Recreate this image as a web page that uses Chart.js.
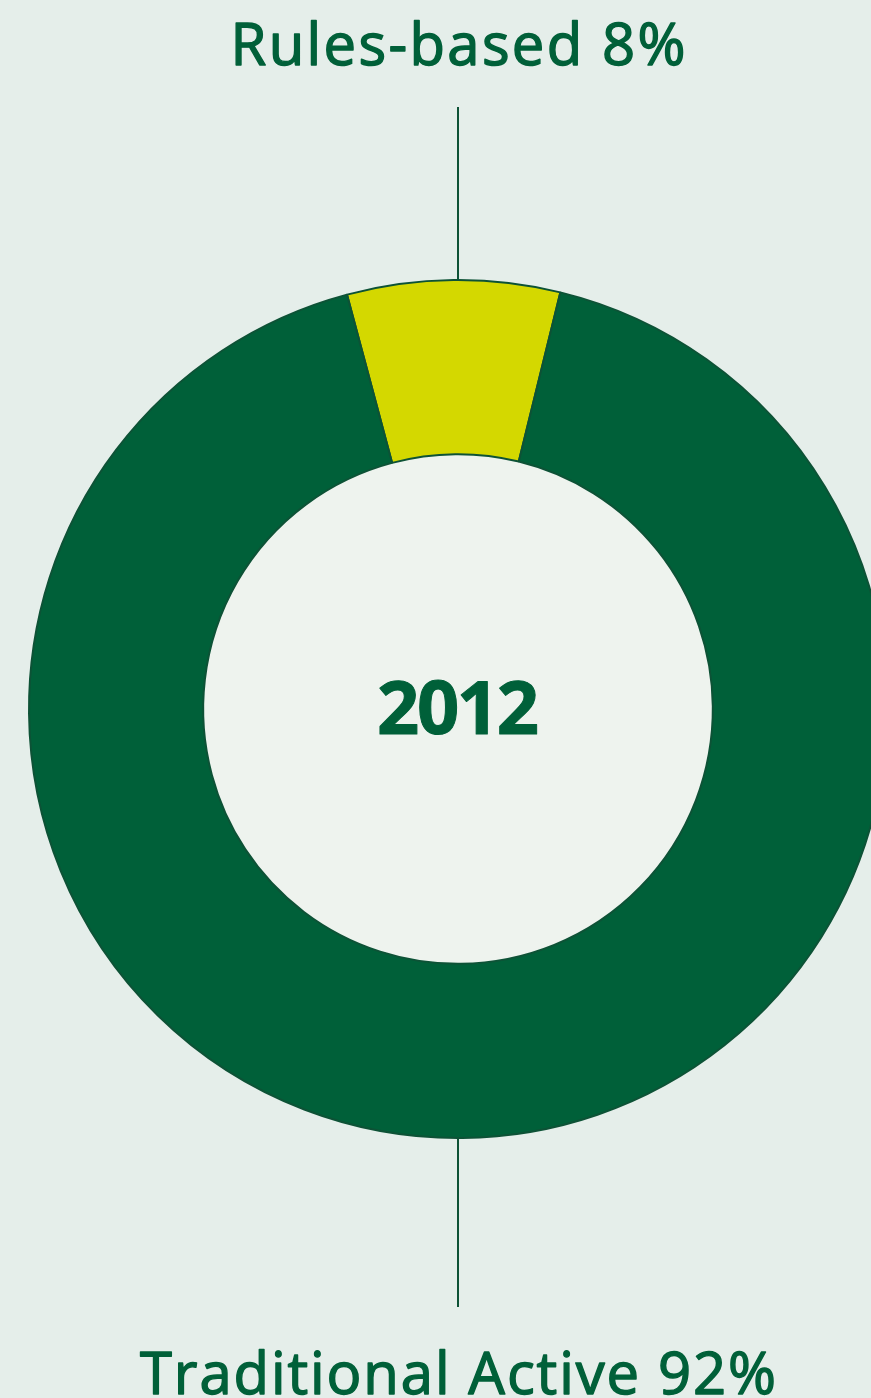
<!DOCTYPE html>
<html>
<head>
<meta charset="utf-8">
<script src="https://cdn.jsdelivr.net/npm/chart.js@4/dist/chart.umd.min.js"></script>
<style>
  html, body { margin: 0; padding: 0; background: #e5eeea; overflow: hidden; }
  #wrap { position: absolute; left: 0; top: 0; width: 916px; height: 1398px; }
</style>
</head>
<body>
<div id="wrap"><canvas id="donut" width="916" height="1398"></canvas></div>
<script>
// 2012 split between rules-based and traditional active
const labels = ["Rules-based", "Traditional Active"];
const shares = [8, 92];
const sliceColors = ["#d4d800", "#006039"];
const yearLabel = "2012";

const GREEN = "#006039";
const EDGE = "#0d5236";
const HOLE = "#eef3ee";
const FONT = "'Open Sans', Lato, sans-serif";

// draws text centred on x, letter spacing adjusted to a target width;
// a thin stroke gives the regular face a medium weight
function fitText(ctx, text, x, y, font, width, weight) {
  ctx.font = font;
  ctx.letterSpacing = "0px";
  const w = ctx.measureText(text).width;
  const ls = (width - w) / Math.max(text.length - 1, 1);
  ctx.letterSpacing = ls + "px";
  ctx.textAlign = "left";
  ctx.fillText(text, x - width / 2, y);
  if (weight) {
    ctx.lineWidth = weight;
    ctx.strokeStyle = ctx.fillStyle;
    ctx.lineJoin = "round";
    ctx.strokeText(text, x - width / 2, y);
  }
  ctx.letterSpacing = "0px";
}

const decorations = {
  id: "decorations",
  beforeDatasetsDraw(chart) {
    const arc = chart.getDatasetMeta(0).data[0];
    const { x, y, innerRadius } = arc;
    const ctx = chart.ctx;
    ctx.save();
    ctx.fillStyle = HOLE;
    ctx.beginPath();
    ctx.arc(x, y, innerRadius, 0, Math.PI * 2);
    ctx.fill();
    ctx.restore();
  },
  afterDraw(chart) {
    const arc = chart.getDatasetMeta(0).data[0];
    const { x, y, outerRadius } = arc;
    const ctx = chart.ctx;
    ctx.save();

    // leader lines
    ctx.strokeStyle = EDGE;
    ctx.lineWidth = 2;
    ctx.beginPath();
    ctx.moveTo(x, 107);
    ctx.lineTo(x, y - outerRadius);
    ctx.moveTo(x, y + outerRadius);
    ctx.lineTo(x, 1307);
    ctx.stroke();

    ctx.fillStyle = GREEN;
    ctx.textBaseline = "alphabetic";
    fitText(ctx, labels[0] + " " + shares[0] + "%", x, 65, "58px " + FONT, 455, 1.4);
    fitText(ctx, labels[1] + " " + shares[1] + "%", x, 1394, "58px " + FONT, 636, 1.4);
    fitText(ctx, yearLabel, x, 734, "bold 74px " + FONT, 162, 1);
    ctx.restore();
  }
};

new Chart(document.getElementById("donut"), {
  type: "doughnut",
  data: {
    labels: labels,
    datasets: [{
      data: shares,
      backgroundColor: sliceColors,
      borderColor: EDGE,
      borderWidth: 2
    }]
  },
  options: {
    responsive: false,
    animation: false,
    rotation: -15,
    radius: 429,
    cutout: "59.4%",
    layout: { padding: { left: 30, right: 30, top: 281, bottom: 261 } },
    plugins: {
      legend: { display: false },
      tooltip: { enabled: false }
    }
  },
  plugins: [decorations]
});
</script>
</body>
</html>
